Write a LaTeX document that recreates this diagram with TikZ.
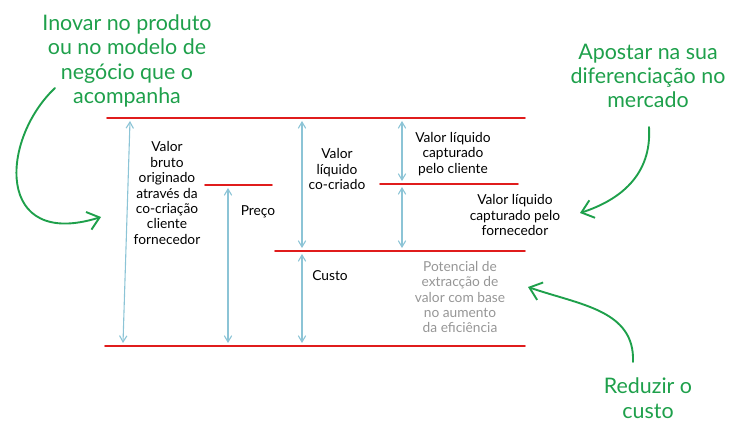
\documentclass[tikz,border=0pt]{standalone}
\usepackage{fontspec}
\setmainfont{Lato}
\usetikzlibrary{arrows.meta}
\definecolor{lvred}{RGB}{224,28,28}
\definecolor{spblue}{RGB}{140,196,214}
\definecolor{hintgreen}{RGB}{30,160,75}
\definecolor{potgray}{RGB}{150,150,150}

\begin{document}
\begin{tikzpicture}[x=1bp,y=-1bp,line cap=round,
  level/.style={lvred,line width=1.7pt},
  span/.style={spblue,line width=1.1pt,{Straight Barb[length=2.2mm,width=2.6mm]}-{Straight Barb[length=2.2mm,width=2.6mm]}},
  lbl/.style={align=center,font=\fontsize{13.8}{15.5}\selectfont},
  hint/.style={align=center,text=hintgreen,font=\fontsize{21.5}{24.5}\selectfont},
  hintarrow/.style={hintgreen,line width=1.9pt,-{Straight Barb[length=4mm,width=6.5mm]}}]
  \useasboundingbox (0,0) rectangle (738,433);
  % red levels
  \coordinate (topL) at (107,118);
  \coordinate (topR) at (525,118);
  \coordinate (prcL) at (205,185);
  \coordinate (prcR) at (272,185);
  \coordinate (cliL) at (380,184);
  \coordinate (cliR) at (518,184);
  \coordinate (cstL) at (275,251);
  \coordinate (cstR) at (525,251);
  \coordinate (botL) at (105,346);
  \coordinate (botR) at (525,346);
  \draw[level] (topL) -- (topR);
  \draw[level] (prcL) -- (prcR);
  \draw[level] (cliL) -- (cliR);
  \draw[level] (cstL) -- (cstR);
  \draw[level] (botL) -- (botR);
  % blue spans
  \coordinate (bruA) at (130,121);
  \coordinate (bruB) at (123,343);
  \coordinate (prcA) at (228,188);
  \coordinate (prcB) at (228,343);
  \coordinate (cocA) at (302,121);
  \coordinate (cocB) at (302,248);
  \coordinate (cusA) at (302,254);
  \coordinate (cusB) at (302,343);
  \coordinate (vcaA) at (402,121);
  \coordinate (vcaB) at (402,181);
  \coordinate (vfoA) at (402,187);
  \coordinate (vfoB) at (402,248);
  \draw[span] (bruA) -- (bruB);
  \draw[span] (prcA) -- (prcB);
  \draw[span] (cocA) -- (cocB);
  \draw[span] (cusA) -- (cusB);
  \draw[span] (vcaA) -- (vcaB);
  \draw[span] (vfoA) -- (vfoB);
  % labels
  \node[lbl] (bruto) at (167,193) {Valor\\bruto\\originado\\através da\\co-criação\\cliente\\fornecedor};
  \node[lbl] (preco) at (258,212) {Preço};
  \node[lbl] (cocri) at (337,169) {Valor\\líquido\\co-criado};
  \node[lbl] (vcli) at (453,154) {Valor líquido\\capturado\\pelo cliente};
  \node[lbl] (vfor) at (515,215) {Valor líquido\\capturado pelo\\fornecedor};
  \node[lbl] (custo) at (330,276) {Custo};
  \node[lbl,text=potgray] (poten) at (460,297) {Potencial de\\extracção de\\valor com base\\no aumento\\da eficiência};
  % green hints
  \node[hint] (inovar) at (127,61) {Inovar no produto\\ou no modelo de\\negócio que o\\acompanha};
  \node[hint] (apostar) at (648,76) {Apostar na sua\\diferenciação no\\mercado};
  \node[hint] (reduzir) at (648,398) {Reduzir o\\custo};
  \coordinate (inoEnd) at (101,217);
  \coordinate (apoEnd) at (580,213);
  \coordinate (redEnd) at (528,287);
  \draw[hintarrow] (55,88) .. controls (0,140) and (-5,250) .. (inoEnd);
  \draw[hintarrow] (649,127) .. controls (652,175) and (620,200) .. (apoEnd);
  \draw[hintarrow] (633,362) .. controls (635,310) and (580,305) .. (redEnd);
\end{tikzpicture}
\end{document}
